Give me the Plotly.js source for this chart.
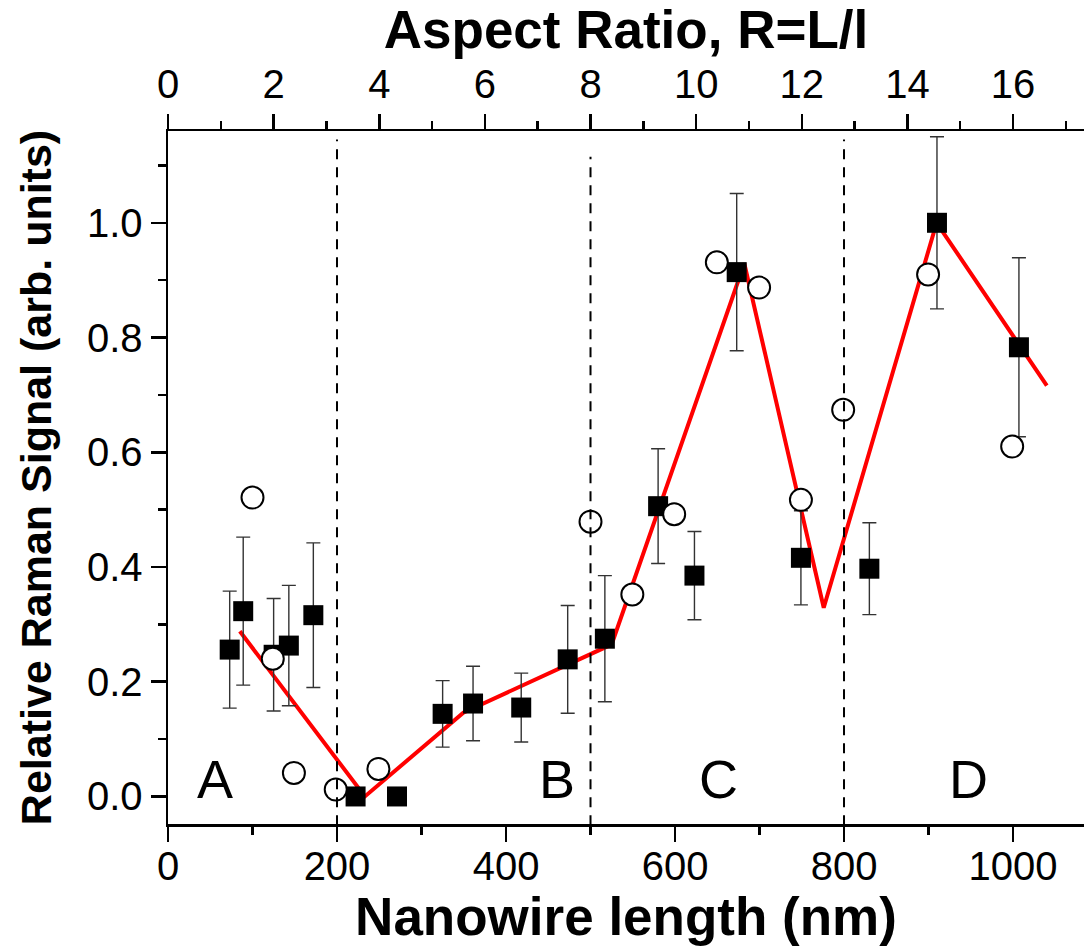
<!DOCTYPE html>
<html>
<head>
<meta charset="utf-8">
<script src="https://cdn.plot.ly/plotly-3.0.1.min.js"></script>
<style>html,body{margin:0;padding:0;background:#fff;}#chart{width:1084px;height:952px;}</style>
</head>
<body>
<div id="chart"></div>
<script>
// Filled squares (with error bars)
var squareX = [73, 89, 125, 143, 172, 222, 271, 325, 361, 418, 473, 517, 580, 623, 673, 749, 830, 910, 1007];
var squareY = [0.256, 0.323, 0.247, 0.263, 0.316, 0.0, 0.0, 0.144, 0.162, 0.155, 0.239, 0.275, 0.506, 0.385, 0.914, 0.416, 0.397, 1.0, 0.783];
var squareErr = [0.102, 0.129, 0.098, 0.105, 0.126, 0, 0, 0.058, 0.065, 0.06, 0.094, 0.11, 0.10, 0.077, 0.137, 0.082, 0.08, 0.15, 0.156];
// Open circles
var circleX = [100, 124, 149, 198.5, 249, 500, 549.5, 599, 649.5, 699.5, 749, 799, 899.5, 999];
var circleY = [0.521, 0.240, 0.041, 0.012, 0.048, 0.479, 0.352, 0.492, 0.931, 0.887, 0.517, 0.674, 0.910, 0.610];
// Red guide line
var lineX = [85, 233, 349.5, 525, 682, 776, 909.6, 1040];
var lineY = [0.288, 0.0, 0.146, 0.265, 0.929, 0.329, 1.0, 0.716];
// Region dividers
var dividerX = [200, 500, 800];
var dividerTop = [1.145, 1.115, 1.145];
// Region labels
var regionLabels = ['A', 'B', 'C', 'D'];
var regionX = [55.6, 460, 651.6, 947];
var regionY = [0.03, 0.03, 0.03, 0.03];

var nmPerR = 62.5;
var xMax = 1084;

var divX = [], divY = [];
dividerX.forEach(function (x, i) { divX.push(x, x, null); divY.push(-0.05, dividerTop[i], null); });

var data = [
  { x: lineX, y: lineY, mode: 'lines', line: { color: '#ff0000', width: 4 }, hoverinfo: 'skip', showlegend: false },
  { x: squareX, y: squareY, mode: 'markers', marker: { symbol: 'square', size: 20, color: '#000' },
    error_y: { type: 'data', array: squareErr, visible: true, color: '#333', thickness: 1.4, width: 7 }, showlegend: false },
  { x: circleX, y: circleY, mode: 'markers', marker: { symbol: 'circle', size: 22, color: '#fff', line: { color: '#000', width: 2 } }, showlegend: false },
  { x: divX, y: divY, mode: 'lines', line: { color: '#000', width: 2, dash: '10px,8px' }, hoverinfo: 'skip', showlegend: false },
  { x: [0, xMax / nmPerR], y: [null, null], xaxis: 'x2', mode: 'markers', hoverinfo: 'skip', showlegend: false }
];

var fontFam = 'Liberation Sans, Arial, sans-serif';
var annotations = regionLabels.map(function (t, i) {
  return { text: t, x: regionX[i], y: regionY[i], xref: 'x', yref: 'y', showarrow: false,
    font: { family: fontFam, size: 54, color: '#000' }, xanchor: 'center', yanchor: 'middle' };
});

var layout = {
  width: 1084, height: 952,
  margin: { l: 168, r: 0, t: 131, b: 128 },
  paper_bgcolor: '#fff', plot_bgcolor: '#fff',
  font: { family: fontFam, color: '#000' },
  showlegend: false,
  xaxis: {
    range: [0, xMax], dtick: 200, tick0: 0, ticks: 'outside', ticklen: 15, tickwidth: 2.5, tickcolor: '#000',
    showline: true, linewidth: 2.5, linecolor: '#000', showgrid: false, zeroline: false, mirror: false,
    tickfont: { size: 40, family: fontFam }, ticklabelstandoff: -10,
    minor: { dtick: 100, ticks: 'outside', ticklen: 8, tickwidth: 2.5, tickcolor: '#000', showgrid: false },
    title: { text: '<b>Nanowire length (nm)</b>', font: { size: 53, family: fontFam }, standoff: 6 }
  },
  xaxis2: {
    overlaying: 'x', side: 'top', range: [0, xMax / nmPerR], dtick: 2, tick0: 0, ticks: 'outside', ticklen: 15,
    tickwidth: 2.5, tickcolor: '#000', showline: true, linewidth: 2.5, linecolor: '#000', showgrid: false, zeroline: false,
    tickfont: { size: 40, family: fontFam },
    minor: { dtick: 1, ticks: 'outside', ticklen: 8, tickwidth: 2.5, tickcolor: '#000', showgrid: false },
    title: { text: '<b>Aspect Ratio, R=L/l</b>', font: { size: 53, family: fontFam }, standoff: 10 }
  },
  yaxis: {
    range: [-0.048, 1.160], dtick: 0.2, tick0: 0, tickformat: '.1f', ticks: 'outside', ticklen: 15, tickwidth: 2.5,
    tickcolor: '#000', showline: true, linewidth: 2.5, linecolor: '#000', showgrid: false, zeroline: false,
    tickfont: { size: 40, family: fontFam },
    minor: { dtick: 0.1, ticks: 'outside', ticklen: 8, tickwidth: 2.5, tickcolor: '#000', showgrid: false },
    title: { text: '<b>Relative Raman Signal (arb. units)</b>', font: { size: 43, family: fontFam }, standoff: 22 }
  },
  annotations: annotations
};

Plotly.newPlot('chart', data, layout, { displayModeBar: false, staticPlot: true });
</script>
</body>
</html>
